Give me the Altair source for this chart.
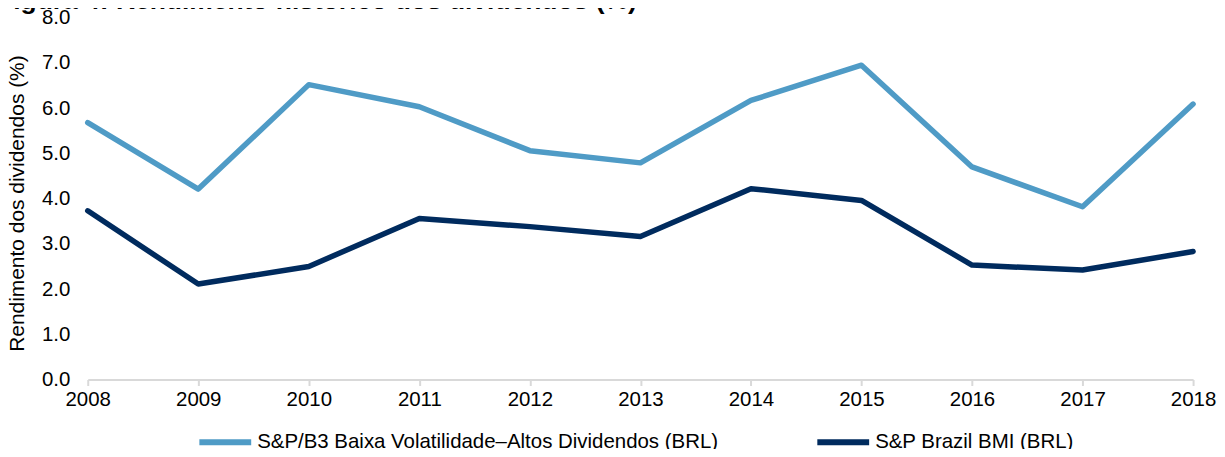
import altair as alt
import pandas as pd

years = [2008, 2009, 2010, 2011, 2012, 2013, 2014, 2015, 2016, 2017, 2018]
low_vol_high_div = [5.68, 4.21, 6.52, 6.03, 5.06, 4.79, 6.17, 6.95, 4.70, 3.82, 6.09]
brazil_bmi = [3.73, 2.11, 2.50, 3.56, 3.38, 3.16, 4.22, 3.96, 2.53, 2.42, 2.83]
series_names = ["S&P/B3 Baixa Volatilidade\u2013Altos Dividendos (BRL)", "S&P Brazil BMI (BRL)"]
series_colors = ["#4F9BC6", "#002B5E"]
y_ticks = [0, 1, 2, 3, 4, 5, 6, 7, 8]

rows = []
for i, yr in enumerate(years):
    rows.append({"Ano": yr, "Série": series_names[0], "Valor": low_vol_high_div[i]})
    rows.append({"Ano": yr, "Série": series_names[1], "Valor": brazil_bmi[i]})
df = pd.DataFrame(rows)

FONT = "Liberation Sans"

chart = alt.Chart(df).mark_line(strokeWidth=5.5, strokeCap="round", strokeJoin="round").encode(
    x=alt.X("Ano:Q",
            scale=alt.Scale(domain=[2008, 2018], nice=False, zero=False),
            axis=alt.Axis(values=years, format="d", title=None, grid=False,
                          domainColor="#D9D9D9", domainWidth=2,
                          tickColor="#D9D9D9", tickWidth=2, tickSize=6,
                          labelFont=FONT, labelFontSize=20.5, labelColor="#000000",
                          labelPadding=4, labelFlush=False)),
    y=alt.Y("Valor:Q",
            scale=alt.Scale(domain=[0, 8], nice=False),
            axis=alt.Axis(values=y_ticks, format=".1f", grid=False, domain=False, ticks=False,
                          labelFont=FONT, labelFontSize=20.5, labelColor="#000000",
                          labelPadding=18,
                          title="Rendimento dos dividendos (%)",
                          titleFont=FONT, titleFontSize=21, titleFontWeight="normal",
                          titleColor="#000000", titleX=-64, titleY=186,
                          titleAngle=-90, titleBaseline="alphabetic", titleAlign="center")),
    color=alt.Color("Série:N",
                    scale=alt.Scale(domain=series_names, range=series_colors),
                    legend=alt.Legend(title=None, orient="none", direction="horizontal",
                                      legendX=109, legendY=397,
                                      symbolType="stroke", symbolSize=2704,
                                      symbolStrokeWidth=6, labelOffset=3,
                                      columnPadding=87, labelLimit=1000,
                                      labelFont=FONT, labelFontSize=20.5,
                                      labelColor="#000000")),
).properties(
    width=1109,
    height=363,
    title=alt.TitleParams("Figura 4: Rendimento histórico dos dividendos (%)",
                          anchor="start", frame="group", font=FONT, fontSize=26.5,
                          fontWeight="bold", color="#000000", dx=-91, dy=18,
                          offset=-10, baseline="alphabetic"),
    autosize=alt.AutoSizeParams(type="none"),
    padding={"left": 80, "top": 9, "right": 24, "bottom": 69},
).configure_view(stroke=None)

chart.save("out.html", embed_options={"renderer": "svg", "actions": False})
